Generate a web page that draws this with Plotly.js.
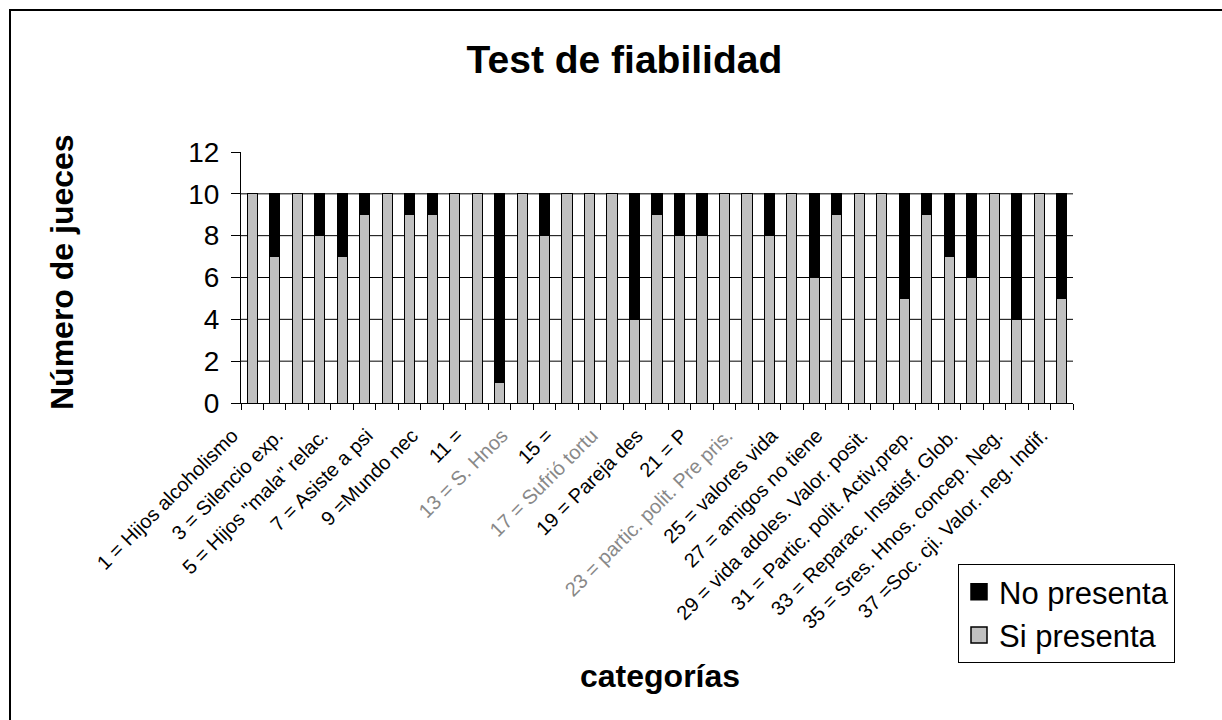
<!DOCTYPE html>
<html>
<head>
<meta charset="utf-8">
<script src="https://cdn.plot.ly/plotly-3.0.1.min.js"></script>
<style>
html,body{margin:0;padding:0;background:#fff;}
#wrap{position:absolute;left:0;top:0;width:1222px;height:720px;}
#frame{position:absolute;left:9px;top:9px;width:1300px;height:800px;border-left:2px solid #000;border-top:2px solid #000;pointer-events:none;}
#chart{position:absolute;left:0;top:0;width:1222px;height:720px;}
</style>
</head>
<body>
<div id="wrap"><div id="chart"></div><div id="frame"></div></div>
<script>
const categories = [1,2,3,4,5,6,7,8,9,10,11,12,13,14,15,16,17,18,19,20,21,22,23,24,25,26,27,28,29,30,31,32,33,34,35,36,37];
const siPresenta = [10,7,10,8,7,9,10,9,9,10,10,1,10,8,10,10,10,4,9,8,8,10,10,8,10,6,9,10,10,5,9,7,6,10,4,10,5];
const noPresenta = [0,3,0,2,3,1,0,1,1,0,0,9,0,2,0,0,0,6,1,2,2,0,0,2,0,4,1,0,0,5,1,3,4,0,6,0,5];
const labelCats = [1,3,5,7,9,11,13,15,17,19,21,23,25,27,29,31,33,35,37];
const labelTexts = [
  '1 = Hijos alcoholismo',
  '3 = Silencio exp.',
  '5 = Hijos "mala" relac.',
  '7 = Asiste a psi',
  '9 =Mundo nec',
  '11 =',
  '<span style="fill:#888">13 = S. Hnos</span>',
  '15 =',
  '<span style="fill:#888">17 = Sufrió tortu</span>',
  '19 = Pareja des',
  '21 = P',
  '<span style="fill:#888">23 = partic. polit. Pre pris.</span>',
  '25 = valores vida',
  '27 = amigos no tiene',
  '29 = vida adoles. Valor. posit.',
  '31 = Partic. polit. Activ.prep.',
  '33 = Reparac. Insatisf. Glob.',
  '35 = Sres. Hnos. concep. Neg.',
  '37 =Soc. cji. Valor. neg. Indif.'
];
const seriesNames = ['Si presenta', 'No presenta'];
const yTicks = [0,2,4,6,8,10,12];
const gridValues = [2,4,6,8,10];

const FONT = 'Liberation Sans, Arial, sans-serif';

const traces = [
  {type:'bar', name:seriesNames[0], x:categories, y:siPresenta, showlegend:false,
   marker:{color:'#C0C0C0', line:{color:'#000', width:1}}, hoverinfo:'skip'},
  {type:'bar', name:seriesNames[1], x:categories, y:noPresenta, showlegend:false,
   marker:{color:'#000000', line:{color:'#000', width:1}}, hoverinfo:'skip'},
  {type:'scatter', x:categories, y:siPresenta, xaxis:'x2', yaxis:'y', mode:'none', showlegend:false, hoverinfo:'skip'},
  {type:'scatter', name:seriesNames[0], x:[null], y:[null], mode:'markers',
   marker:{symbol:'square', size:16, color:'#C0C0C0', line:{color:'#000', width:1.5}}},
  {type:'scatter', name:seriesNames[1], x:[null], y:[null], mode:'markers',
   marker:{symbol:'square', size:16, color:'#000000', line:{color:'#000', width:1.5}}}
];

const boundaries = [0].concat(categories).map(c => c + 0.5);

const shapes = gridValues.map(v => ({type:'line', xref:'paper', yref:'y', x0:0, x1:1, y0:v, y1:v, line:{color:'#000', width:1}, layer:'below'}));

const layout = {
  width:1222, height:720,
  margin:{l:241, r:149, t:152, b:317},
  paper_bgcolor:'#fff', plot_bgcolor:'#fff',
  font:{family:FONT, color:'#000'},
  barmode:'stack', bargap:0.55,
  title:{text:'<b>Test de fiabilidad</b>', font:{size:39, family:FONT, color:'#000'}, xref:'container', yref:'container', x:0.511, y:0.918, xanchor:'center', yanchor:'middle'},
  xaxis:{type:'linear', range:[0.5,37.5], tickmode:'array', tickvals:labelCats, ticktext:labelTexts,
         tickangle:-45, ticks:'', showgrid:false, zeroline:false, showline:true, linecolor:'#000', linewidth:1,
         ticklabelshift:-20, ticklabelstandoff:12,
         tickfont:{size:20, family:FONT, color:'#000'}, fixedrange:true},
  xaxis2:{overlaying:'x', matching:'x', range:[0.5,37.5], tickmode:'array', tickvals:boundaries, showticklabels:false,
          ticks:'outside', ticklen:6, tickcolor:'#000', tickwidth:1, showgrid:false, zeroline:false, anchor:'y', side:'bottom'},
  yaxis:{range:[0,12], tickmode:'array', tickvals:yTicks, ticks:'outside', ticklen:9, tickcolor:'#000', tickwidth:1,
         ticklabelstandoff:6, showgrid:false, zeroline:false, showline:true, linecolor:'#000', linewidth:1,
         tickfont:{size:28, family:FONT, color:'#000'}, fixedrange:true},
  shapes:shapes,
  annotations:[
    {text:'<b>Número de jueces</b>', xref:'paper', yref:'paper', x:(62-241)/832, y:(403-272)/251, textangle:-90, showarrow:false, xanchor:'center', yanchor:'middle', font:{size:32, family:FONT, color:'#000'}},
    {text:'<b>categorías</b>', xref:'paper', yref:'paper', x:(660-241)/832, y:(403-676)/251, showarrow:false, xanchor:'center', yanchor:'middle', font:{size:32, family:FONT, color:'#000'}}
  ],
  legend:{x:(958-241)/832, y:(403-564)/251, xanchor:'left', yanchor:'top', bordercolor:'#000', borderwidth:1, bgcolor:'#fff',
          font:{size:31, family:FONT, color:'#000'}, traceorder:'reversed', itemwidth:30, tracegroupgap:0},
  showlegend:true
};

Plotly.newPlot('chart', traces, layout, {staticPlot:true, displayModeBar:false});
</script>
</body>
</html>
